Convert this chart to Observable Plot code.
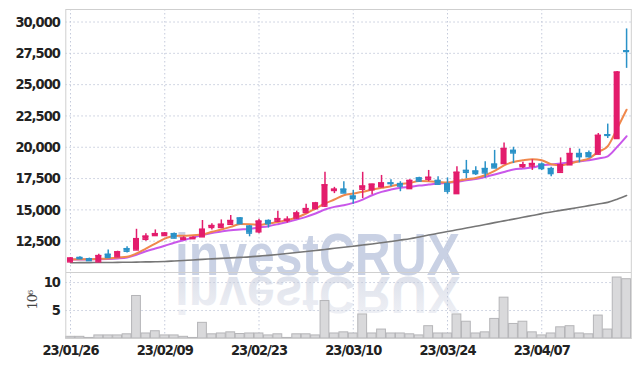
<!DOCTYPE html>
<html><head><meta charset="utf-8">
<script src="https://cdn.jsdelivr.net/npm/d3@7"></script>
<script src="https://cdn.jsdelivr.net/npm/@observablehq/plot@0.6"></script>
<style>
body{margin:0;background:#fff;}
#wrap{position:relative;width:639px;height:366px;overflow:hidden;}
#bg{position:absolute;left:0;top:0;}
#charts{position:absolute;left:0;top:0;}
#charts svg{display:block;}
</style></head><body>
<div id="wrap">
<svg id="bg" width="639" height="366">
  <defs>
    <linearGradient id="fade" x1="0" y1="0" x2="0" y2="1">
      <stop offset="0" stop-color="#f2f3f7"/>
      <stop offset="1" stop-color="#d9dde8"/>
    </linearGradient>
  </defs>
  <text x="175" y="275" textLength="285" lengthAdjust="spacingAndGlyphs" font-family="Liberation Sans" font-weight="bold" font-size="60" fill="#c9d1e4">investCRUX</text>
  <g transform="translate(0,276) scale(1,-0.85) translate(0,-276)">
    <text x="175" y="275" textLength="285" lengthAdjust="spacingAndGlyphs" font-family="Liberation Sans" font-weight="bold" font-size="60" fill="url(#fade)">investCRUX</text>
  </g>
</svg>
<div id="charts"></div>
</div>
<script>
const dates = ["23/01/26","23/01/27","23/01/30","23/01/31","23/02/01","23/02/02","23/02/03","23/02/06","23/02/07","23/02/08",
"23/02/09","23/02/10","23/02/13","23/02/14","23/02/15","23/02/16","23/02/17","23/02/20","23/02/21","23/02/22",
"23/02/23","23/02/24","23/02/27","23/02/28","23/03/02","23/03/03","23/03/06","23/03/07","23/03/08","23/03/09",
"23/03/10","23/03/13","23/03/14","23/03/15","23/03/16","23/03/17","23/03/20","23/03/21","23/03/22","23/03/23",
"23/03/24","23/03/27","23/03/28","23/03/29","23/03/30","23/03/31","23/04/03","23/04/04","23/04/05","23/04/06",
"23/04/07","23/04/10","23/04/11","23/04/12","23/04/13","23/04/14","23/04/17","23/04/18","23/04/19","23/04/20"];
const open  = [10850,11200,11100,10850,11450,11250,11900,11800,12650,12950,12950,13100,12650,12700,12850,13600,13600,13850,14350,13700,
13250,14150,14100,14150,14350,14800,15100,15300,16550,16650,16100,16650,16600,16850,17150,17100,16700,17550,17450,17350,
17100,16300,18150,18100,18300,18650,18700,19750,18450,18500,18650,18300,18000,18600,19500,19550,19450,21000,20700,27700];
const high  = [11200,11250,11150,11450,11800,11700,12050,13450,13100,13400,13200,13150,12850,12850,14150,13900,14200,14550,14400,13750,
14250,14200,14900,14450,14900,15450,15600,18000,16800,17250,16550,18000,17050,17750,17400,17250,17400,17600,18150,17650,
17550,18450,18950,18450,18850,19750,20350,20000,18800,19000,18750,18400,19150,19900,19850,19700,21100,21850,26050,29450];
const low   = [10800,11050,10900,10800,11150,11200,11550,11750,12500,12900,12900,12700,12550,12650,12800,13400,13500,13800,13850,12850,
13100,13550,14000,13950,14250,14700,15000,15200,16300,16300,15450,15900,16200,16750,16850,16450,16650,17200,17250,16950,
16250,16250,17500,17750,17550,18300,18650,18700,18300,18150,18150,17650,17950,18550,18750,19150,19400,20700,20650,26300];
const close = [11150,11100,10950,11350,11200,11650,11700,12700,12900,13100,13150,12750,12750,12800,13450,13750,13850,14150,13900,13150,
14100,13900,14300,14250,14750,15100,15550,17000,16650,16350,15900,16900,17050,17150,17100,16900,17350,17300,17600,17050,
16500,18000,18000,17900,17950,18350,19900,19550,18600,18700,18300,17900,18600,19500,19250,19250,20950,20950,26000,27650];
const volume = [0.3,0.3,0.1,0.55,0.55,0.55,0.75,7.6,0.9,1.3,0.55,0.55,0.3,0.1,2.8,0.75,0.9,1.1,0.8,0.9,
0.9,0.55,0.75,0.1,0.75,0.75,0.55,6.7,0.9,1.1,0.9,4.3,0.9,1.6,0.9,0.9,0.75,0.55,2.2,0.9,
0.9,4.3,3.0,0.9,1.1,3.5,7.3,2.6,3.0,1.1,0.55,0.9,2.0,2.2,0.9,0.75,4.1,1.6,10.9,10.6];
const ma5 = [11040,11060,11060,11090,11120,11200,11250,11520,11910,12310,12710,12920,12930,12980,13030,13250,13430,13640,13870,13860,
13800,13910,14040,14180,14390,14710,15110,15510,15830,16170,16300,16440,16620,16760,16890,17050,17150,17300,17290,17240,
17180,17310,17450,17550,17770,18110,18560,18830,18960,19040,18960,18650,18560,18700,18910,19100,19630,20080,21500,23000];
const ma20 = [11040,11040,11050,11060,11080,11120,11200,11420,11700,11910,12130,12370,12580,12790,13000,13160,13270,13380,13430,13480,
13590,13700,13860,14040,14230,14440,14710,15030,15240,15370,15560,15820,16170,16440,16620,16760,16840,16940,17020,17100,
17160,17240,17370,17470,17630,17820,18030,18220,18300,18380,18560,18620,18700,18800,18880,18960,19100,19280,20030,20880];
const ma120 = [10780,10785,10790,10795,10800,10810,10820,10830,10845,10860,10880,10920,10960,11000,11050,11090,11130,11170,11210,11250,
11310,11370,11440,11520,11600,11680,11760,11840,11930,12010,12100,12190,12280,12380,12480,12590,12700,12840,12990,13130,
13270,13410,13550,13690,13830,13980,14120,14260,14410,14550,14700,14830,14960,15080,15210,15340,15470,15600,15850,16150];
const priceTicks = [12500,15000,17500,20000,22500,25000,27500,30000];
const volumeTicks = [5,10];
const dateTicks = ["23/01/26","23/02/09","23/02/23","23/03/10","23/03/24","23/04/07"];

const rows = dates.map((d,i)=>({date:d, open:open[i], high:high[i], low:low[i], close:close[i],
  volume:volume[i], ma5:ma5[i], ma20:ma20[i], ma120:ma120[i]}));
const up = rows.filter(r=>r.close>=r.open);
const down = rows.filter(r=>r.close<r.open);
const PINK = "#e31c6c", BLUE = "#2a92c8";
const GRID = "#c4cadb";
const FAM = "'DejaVu Sans Condensed','Liberation Sans Narrow','Liberation Sans',sans-serif";
const font = {fontFamily:FAM, fontSize:14.5, fontWeight:"bold"};
const common = {width:639, marginLeft:65.3, marginRight:8.2,
  style:{background:"transparent", fontFamily:FAM, fontSize:"14.5px", fontWeight:"bold", color:"#222", letterSpacing:"-1px"}};

function candles(data, color){
  return [
    Plot.ruleX(data, {x:"date", y1:"low", y2:"high", stroke:color, strokeWidth:1.5}),
    Plot.barY(data, {x:"date", y1:"open", y2:"close", fill:color, insetLeft:1.7, insetRight:1.7}),
    Plot.tickY(data, {x:"date", y:"open", stroke:color, strokeWidth:1.5, insetLeft:1.7, insetRight:1.7}),
    Plot.tickY(data, {x:"date", y:"close", stroke:color, strokeWidth:1.5, insetLeft:1.7, insetRight:1.7})
  ];
}

const xOpts = {type:"band", domain:dates, padding:0, round:false, axis:null};

const price = Plot.plot({
  ...common, height:272, marginTop:9, marginBottom:0,
  x:xOpts,
  y:{domain:[10000,31000], axis:null},
  marks:[
    Plot.gridY(priceTicks, {stroke:GRID, strokeOpacity:1, strokeDasharray:"1.5,2.5"}),
    Plot.gridX(dateTicks, {stroke:GRID, strokeOpacity:1, strokeDasharray:"1.5,2.5"}),
    Plot.axisY(priceTicks, {tickSize:0, tickPadding:6, tickFormat:d3.format(","), label:null, ...font}),
    Plot.frame({stroke:"#cfcfcf"}),
    Plot.line(rows, {x:"date", y:"ma120", stroke:"#767676", strokeWidth:1.6, curve:"monotone-x"}),
    Plot.line(rows, {x:"date", y:"ma20", stroke:"#c957ea", strokeWidth:2, curve:"monotone-x"}),
    Plot.line(rows, {x:"date", y:"ma5", stroke:"#f0884c", strokeWidth:2, curve:"monotone-x"}),
    ...candles(up, PINK),
    ...candles(down, BLUE)
  ]
});

const vol = Plot.plot({
  ...common, height:94, marginTop:0, marginBottom:28,
  x:xOpts,
  y:{domain:[0,11.8], axis:null},
  marks:[
    Plot.gridY(volumeTicks, {stroke:GRID, strokeOpacity:1, strokeDasharray:"1.5,2.5"}),
    Plot.gridX(dateTicks, {stroke:GRID, strokeOpacity:1, strokeDasharray:"1.5,2.5"}),
    Plot.barY(rows, {x:"date", y:"volume", fill:"#d9d9db", stroke:"#b5b5b8", strokeWidth:1, insetLeft:0.3, insetRight:0.3}),
    Plot.frame({stroke:"#cfcfcf"}),
    Plot.axisY(volumeTicks, {tickSize:0, tickPadding:6, label:null, ...font}),
    Plot.axisX(dateTicks, {tickSize:0, tickPadding:6, label:null, ...font}),
    Plot.text(["10⁶"], {frameAnchor:"left", text:d=>d, dx:-33, dy:4, rotate:-90,
      fontFamily:"DejaVu Serif", fontSize:13, fontWeight:"normal", fill:"#444"})
  ]
});

const c = document.getElementById("charts");
c.appendChild(price);
c.appendChild(vol);
</script>
</body></html>
